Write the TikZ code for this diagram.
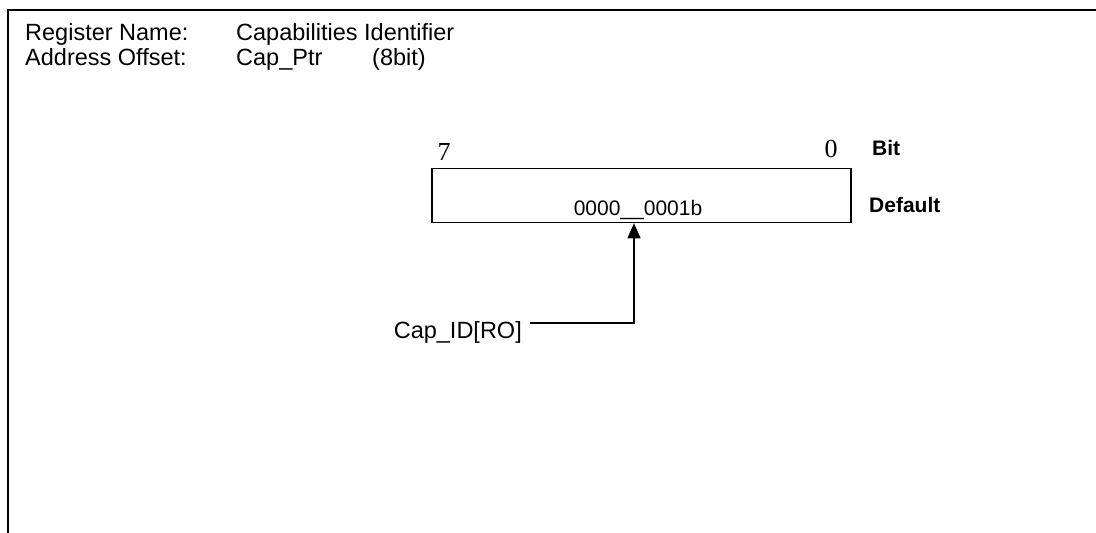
\documentclass[tikz,border=0pt]{standalone}
\usepackage{fontspec}
\setmainfont{Liberation Sans}
\newfontfamily\serifdigits{Liberation Serif}
\usetikzlibrary{arrows.meta}
\begin{document}
\begin{tikzpicture}[x=1pt,y=-1pt,
  lbl/.style={inner sep=0pt,font=\fontsize{23.5}{26}\selectfont},
  bitno/.style={inner sep=0pt,font=\serifdigits\fontsize{26}{28}\selectfont},
  side/.style={inner sep=0pt,font=\bfseries\fontsize{21}{23}\selectfont},
  regbox/.style={draw,line width=1.5pt,minimum width=419pt,minimum height=54pt,inner sep=0pt},
  arr/.style={line width=1.5pt,-{Triangle[length=15pt,width=13pt]}}]
\useasboundingbox (0,0) rectangle (1096,533);
\fill[white] (0,0) rectangle (1096,533);
\coordinate (fbl) at (7.5,533);
\coordinate (ftl) at (7.5,9.5);
\coordinate (ftr) at (1096,9.5);
\draw[line width=2pt] (fbl) -- (ftl) -- (ftr);
\node[lbl,anchor=base west] (rn) at (25,40.5) {Register Name:};
\node[lbl,anchor=base west] (ao) at (25,65) {Address Offset:};
\node[lbl,anchor=base west] (rnv) at (236,40.5) {Capabilities Identifier};
\node[lbl,anchor=base west] (aov) at (236,65) {Cap\_Ptr};
\node[lbl,anchor=base west] (aow) at (372,65) {(8bit)};
\node[regbox] (box) at (641.5,195.5) {};
\node[bitno,anchor=base] (b7) at (444,160) {7};
\node[bitno,anchor=base] (b0) at (831,157) {0};
\node[side,anchor=base west] (bit) at (872,155) {Bit};
\node[side,anchor=base west] (def) at (869,212) {Default};
\node[lbl,anchor=base,font=\fontsize{21}{23}\selectfont] (val) at (638,215) {0000\_\_0001b};
\node[lbl,anchor=base east] (cap) at (522,338) {Cap\_ID[RO]};
\coordinate (tap) at (634,323);
\draw[arr] ([xshift=8pt]cap.east |- tap) -- (tap) -- (box.south -| tap);
\end{tikzpicture}
\end{document}
